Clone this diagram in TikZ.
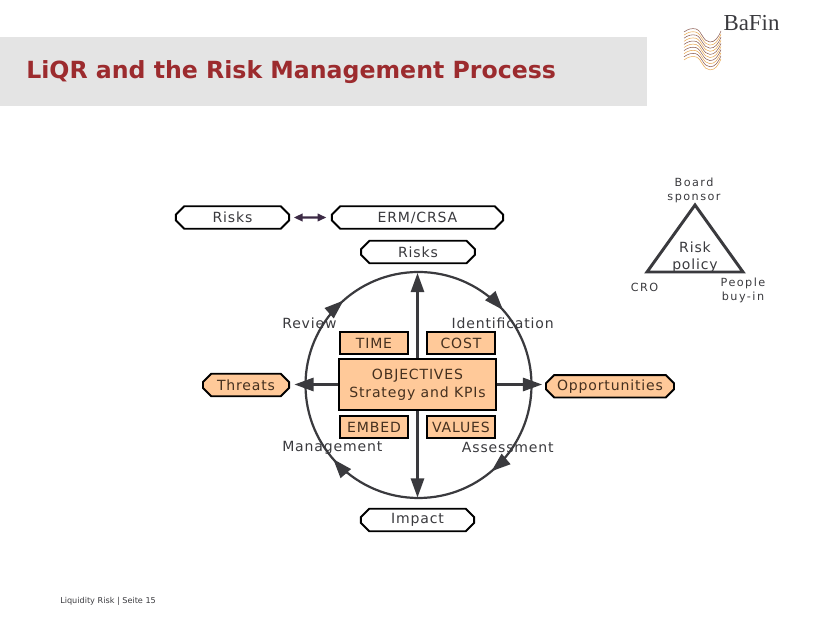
\documentclass[tikz,border=0pt]{standalone}
\usepackage{fontspec}
\setmainfont{DejaVu Sans}
\newfontfamily\labfont[LetterSpace=6]{DejaVu Sans}
\newfontfamily\tripfont[LetterSpace=13]{DejaVu Sans}
\newfontfamily\logofont{Liberation Serif}
\usetikzlibrary{arrows.meta,calc,positioning,shapes.misc}
\definecolor{bandgray}{HTML}{E4E4E4}
\definecolor{titlered}{HTML}{9C2B2E}
\definecolor{darkline}{HTML}{3A3A3E}
\definecolor{linkpurple}{HTML}{3C2A45}
\definecolor{boxorange}{HTML}{FFC999}
\definecolor{boxtext}{HTML}{45301F}
\definecolor{waveorange}{HTML}{E8A850}
\definecolor{wavebrown}{HTML}{8A5A50}
\tikzset{
  tag/.style={chamfered rectangle,chamfered rectangle xsep=2.8pt,chamfered rectangle ysep=2.8pt,
    draw=black,line width=1.3pt,fill=white,inner sep=0pt,minimum height=15.2pt,
    text=darkline,font=\labfont\fontsize{9.5}{11}\selectfont},
  tagfill/.style={tag,fill=boxorange,text=boxtext},
  obox/.style={rectangle,draw=black,line width=1.3pt,fill=boxorange,inner sep=0pt,
    text=boxtext,font=\labfont\fontsize{9.5}{12.5}\selectfont,align=center},
  smallbox/.style={obox,minimum width=46pt,minimum height=15pt},
  lab/.style={text=darkline,font=\labfont\fontsize{9.5}{11.5}\selectfont,inner sep=0pt},
  triplab/.style={text=darkline,font=\tripfont\fontsize{7.6}{9.6}\selectfont,inner sep=0pt,align=center},
  spoke/.style={-{Triangle[length=13pt,width=9pt]},darkline,line width=1.5pt},
  ringtip/.style={-{Triangle[length=13pt,width=9pt]},darkline,line width=1.5pt}
}
\begin{document}
\begin{tikzpicture}[x=0.02381cm,y=0.02381cm,>=Stealth]
  \useasboundingbox (0,0) rectangle (840,630);
  \fill[bandgray] (0,524) rectangle (647,593);
  \node[anchor=west,inner sep=0pt,text=titlered,font=\fontsize{16}{20}\selectfont\bfseries] (title) at (26,558) {LiQR and the Risk Management Process};
  \node[inner sep=0pt,text=darkline,font=\logofont\fontsize{15.5}{17}\selectfont] (bafin) at (751.5,607) {BaFin};
  % wave logo
  \foreach \i in {0,...,9}{
    \pgfmathsetmacro{\wy}{\i*3.1}
    \ifodd\i \def\wavecol{waveorange}\else \def\wavecol{wavebrown}\fi
    \draw[\wavecol,line width=0.35pt] (684,{598-\wy}) .. controls (688,{601-\wy}) and (692,{602-\wy}) .. (696,{601-\wy})
      .. controls (702,{599-\wy}) and (703,{588-\wy}) .. (710,{588-\wy})
      .. controls (715,{588-\wy}) and (718,{592-\wy}) .. (721,{599-\wy});
  }
  % ring
  \coordinate (C) at (418.5,245);
  \draw[darkline,line width=1.5pt] (C) circle (113);
  \foreach \a in {41.6,131.6,-49.8,221}
    \draw[ringtip] ($(C)+(\a+10:113)$) arc (\a+10:\a:113);
  % boxes
  \node[tag,minimum width=76.6pt] (risksa) at (232.5,412.5) {Risks};
  \node[tag,minimum width=116pt] (erm) at (417.5,412.5) {ERM/CRSA};
  \node[tag,minimum width=77pt] (risksb) at (418,378) {Risks};
  \node[tag,minimum width=76.6pt] (impact) at (417.5,110) {Impact};
  \node[tagfill,minimum width=58.3pt] (threats) at (246,245) {Threats};
  \node[tagfill,minimum width=86.7pt] (opps) at (610,243.7) {Opportunities};
  \node[obox,minimum width=106pt,minimum height=34.6pt] (obj) at (417.5,245.5) {OBJECTIVES\\Strategy and KPIs};
  \node[smallbox] (time) at (374,287) {TIME};
  \node[smallbox] (cost) at (461,287) {COST};
  \node[smallbox] (embed) at (374,203) {EMBED};
  \node[smallbox] (values) at (461,203) {VALUES};
  % spokes
  \draw[spoke,shorten >=6pt] (obj.north) -- (obj.north |- risksb.south);
  \draw[spoke,shorten >=7pt] (obj.south) -- (obj.south |- impact.north);
  \draw[spoke,shorten >=3pt] (obj.west) -- (obj.west -| threats.east);
  \draw[spoke,shorten >=2pt] (obj.east) -- (obj.east -| opps.west);
  \draw[{Triangle[length=6pt,width=5pt]}-{Triangle[length=6pt,width=5pt]},linkpurple,line width=1.6pt,shorten <=2.5pt,shorten >=3pt] (risksa) -- (erm);
  % ring labels
  \node[lab,anchor=west] (review) at (282,306.5) {Review};
  \node[lab,anchor=east] (ident) at (554,306.5) {Identification};
  \node[lab,anchor=west] (manage) at (282,182.5) {Management};
  \node[lab,anchor=east] (assess) at (554,182.5) {Assessment};
  % triangle
  \coordinate (apex) at (695,425);
  \coordinate (baseL) at (647,358);
  \coordinate (baseR) at (743,358);
  \draw[darkline,line width=2pt,line join=miter] (apex) -- (baseL) -- (baseR) -- cycle;
  \node[triplab] (board) at (694,440) {Board\\sponsor};
  \node[lab,align=center] (policy) at (695,373) {Risk\\policy};
  \node[triplab] (cro) at (644.5,343) {CRO};
  \node[triplab] (people) at (743,340) {People\\buy-in};
  \node[inner sep=0pt,text=darkline,font=\fontsize{5.5}{7}\selectfont,anchor=west] (foot) at (60,29) {Liquidity Risk | Seite 15};
\end{tikzpicture}
\end{document}
